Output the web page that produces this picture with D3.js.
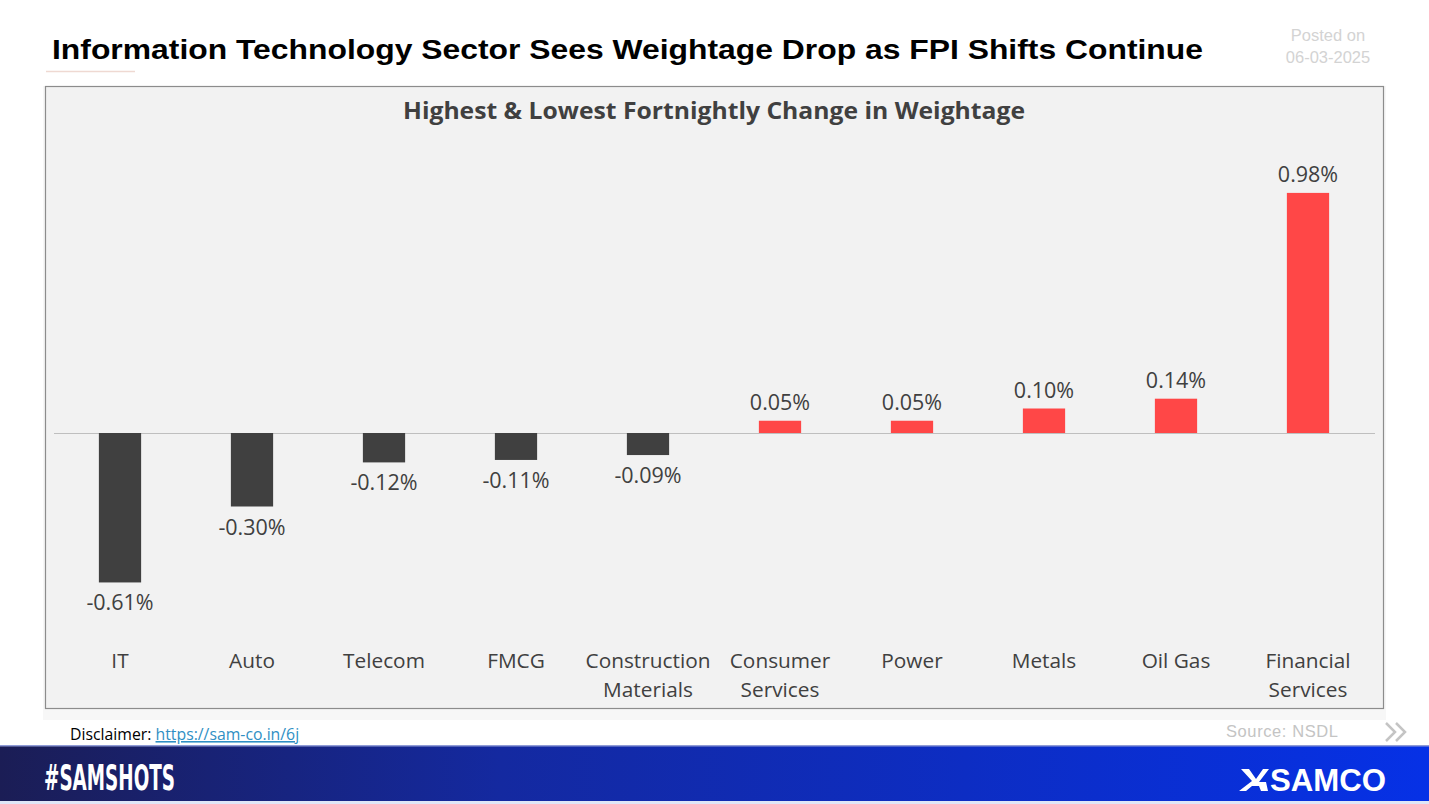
<!DOCTYPE html>
<html>
<head>
<meta charset="utf-8">
<script src="https://cdn.jsdelivr.net/npm/d3@7"></script>
<style>
  html, body { margin: 0; padding: 0; background: #ffffff; }
  svg { display: block; }
</style>
</head>
<body>
<svg id="chart" width="1429" height="804"></svg>
<script>
const categories = ["IT", "Auto", "Telecom", "FMCG", "Construction Materials", "Consumer Services", "Power", "Metals", "Oil Gas", "Financial Services"];
const categoryLines = [["IT"], ["Auto"], ["Telecom"], ["FMCG"], ["Construction", "Materials"], ["Consumer", "Services"], ["Power"], ["Metals"], ["Oil Gas"], ["Financial", "Services"]];
const values = [-0.61, -0.30, -0.12, -0.11, -0.09, 0.05, 0.05, 0.10, 0.14, 0.98];
const valueLabels = ["-0.61%", "-0.30%", "-0.12%", "-0.11%", "-0.09%", "0.05%", "0.05%", "0.10%", "0.14%", "0.98%"];

const svg = d3.select("#chart");
const chartFont = "'Open Sans', 'Noto Sans', sans-serif";

// Header
svg.append("text").attr("x", 52).attr("y", 59)
  .attr("font-family", "'Liberation Sans', Arial, sans-serif")
  .attr("font-weight", "bold").attr("font-size", 28.5).attr("fill", "#000")
  .attr("textLength", 1151).attr("lengthAdjust", "spacingAndGlyphs")
  .text("Information Technology Sector Sees Weightage Drop as FPI Shifts Continue");
svg.append("line").attr("x1", 46).attr("x2", 135).attr("y1", 71.5).attr("y2", 71.5)
  .attr("stroke", "#efd9d2").attr("stroke-width", 1.5);
svg.append("text").attr("x", 1328).attr("y", 41).attr("text-anchor", "middle")
  .attr("font-family", "'Liberation Sans', Arial, sans-serif").attr("font-size", 16.5)
  .attr("fill", "#d3d3d3").text("Posted on");
svg.append("text").attr("x", 1328).attr("y", 63).attr("text-anchor", "middle")
  .attr("font-family", "'Liberation Sans', Arial, sans-serif").attr("font-size", 16.5)
  .attr("fill", "#d3d3d3").text("06-03-2025");

// Chart panel
svg.append("rect").attr("x", 43).attr("y", 86).attr("width", 1343).attr("height", 634).attr("fill", "#f7f7f7");
svg.append("rect").attr("x", 45.5).attr("y", 86.5).attr("width", 1338).attr("height", 622)
  .attr("fill", "#f2f2f2").attr("stroke", "#8c8c8c").attr("stroke-width", 1.2);

svg.append("text").attr("x", 714).attr("y", 119).attr("text-anchor", "middle")
  .attr("font-family", chartFont).attr("font-weight", "bold").attr("font-size", 23)
  .attr("fill", "#404040").attr("textLength", 622).attr("lengthAdjust", "spacingAndGlyphs")
  .text("Highest & Lowest Fortnightly Change in Weightage");

// Scales
const x = d3.scaleBand().domain(categories).range([54, 1374]).paddingInner(0.68).paddingOuter(0.34);
const y = d3.scaleLinear().domain([-1, 1]).range([433 + 245, 433 - 245]);

// Zero line
svg.append("line").attr("x1", 54).attr("x2", 1375).attr("y1", y(0) + 0.5).attr("y2", y(0) + 0.5)
  .attr("stroke", "#bfbfbf").attr("stroke-width", 1.2);

const data = categories.map((c, i) => ({ c, v: values[i], label: valueLabels[i], lines: categoryLines[i] }));

svg.append("g").selectAll("rect").data(data).join("rect")
  .attr("x", d => x(d.c))
  .attr("width", x.bandwidth())
  .attr("y", d => y(Math.max(0, d.v)))
  .attr("height", d => Math.abs(y(d.v) - y(0)))
  .attr("fill", d => d.v < 0 ? "#404040" : "#ff4747");

svg.append("g").selectAll("text").data(data).join("text")
  .attr("x", d => x(d.c) + x.bandwidth() / 2)
  .attr("y", d => d.v < 0 ? y(d.v) + 28 : y(d.v) - 11)
  .attr("text-anchor", "middle")
  .attr("font-family", chartFont).attr("font-size", 21.5).attr("fill", "#404040")
  .text(d => d.label);

// Category labels
const catG = svg.append("g");
data.forEach(d => {
  d.lines.forEach((ln, j) => {
    catG.append("text")
      .attr("x", x(d.c) + x.bandwidth() / 2)
      .attr("y", 668 + j * 29)
      .attr("text-anchor", "middle")
      .attr("font-family", chartFont).attr("font-size", 20.8).attr("fill", "#404040")
      .text(ln);
  });
});

// Disclaimer & source
const disc = svg.append("text").attr("x", 70).attr("y", 740)
  .attr("font-family", chartFont).attr("font-size", 15.8).attr("fill", "#000");
disc.append("tspan").text("Disclaimer: ");
disc.append("tspan").attr("fill", "#2f8fc4").attr("text-decoration", "underline").text("https://sam-co.in/6j");

svg.append("text").attr("x", 1226).attr("y", 737)
  .attr("font-family", "'Liberation Sans', Arial, sans-serif").attr("font-size", 16.5)
  .attr("fill", "#c4c4c4").attr("textLength", 112).text("Source: NSDL");
svg.append("path").attr("d", "M1386,723 L1395,732 L1386,741 M1396,723 L1405,732 L1396,741")
  .attr("fill", "none").attr("stroke", "#c4c4c4").attr("stroke-width", 2.5);

// Footer band
const defs = svg.append("defs");
const grad = defs.append("linearGradient").attr("id", "footGrad").attr("x1", "0%").attr("x2", "100%");
grad.append("stop").attr("offset", "0%").attr("stop-color", "#1b1d55");
grad.append("stop").attr("offset", "35%").attr("stop-color", "#1429a0");
grad.append("stop").attr("offset", "100%").attr("stop-color", "#0631e6");
svg.append("rect").attr("x", 0).attr("y", 746).attr("width", 1429).attr("height", 55).attr("fill", "url(#footGrad)");
svg.append("rect").attr("x", 0).attr("y", 801).attr("width", 1429).attr("height", 3).attr("fill", "#dfe6f7");
svg.append("rect").attr("x", 0).attr("y", 745).attr("width", 1429).attr("height", 1.5).attr("fill", "#8f9bd6");

svg.append("text").attr("x", 44).attr("y", 790)
  .attr("font-family", "'DejaVu Sans Condensed', 'DejaVu Sans', sans-serif")
  .attr("font-weight", "bold").attr("font-size", 35).attr("fill", "#ffffff")
  .attr("textLength", 131).attr("lengthAdjust", "spacingAndGlyphs").text("#SAMSHOTS");

// SAMCO logo
svg.append("path")
  .attr("d", "M1241,769 L1249,769 L1256,779 L1263,769 L1269,769 L1259,782 L1266,782 L1268,791 L1261,791 L1259,786 L1252,786 L1246,791 L1239,791 L1252,781 Z")
  .attr("fill", "#ffffff");
svg.append("text").attr("x", 1270).attr("y", 791)
  .attr("font-family", "'Liberation Sans', Arial, sans-serif")
  .attr("font-weight", "bold").attr("font-size", 32).attr("fill", "#ffffff")
  .attr("textLength", 116).attr("lengthAdjust", "spacingAndGlyphs").text("SAMCO");
</script>
</body>
</html>
